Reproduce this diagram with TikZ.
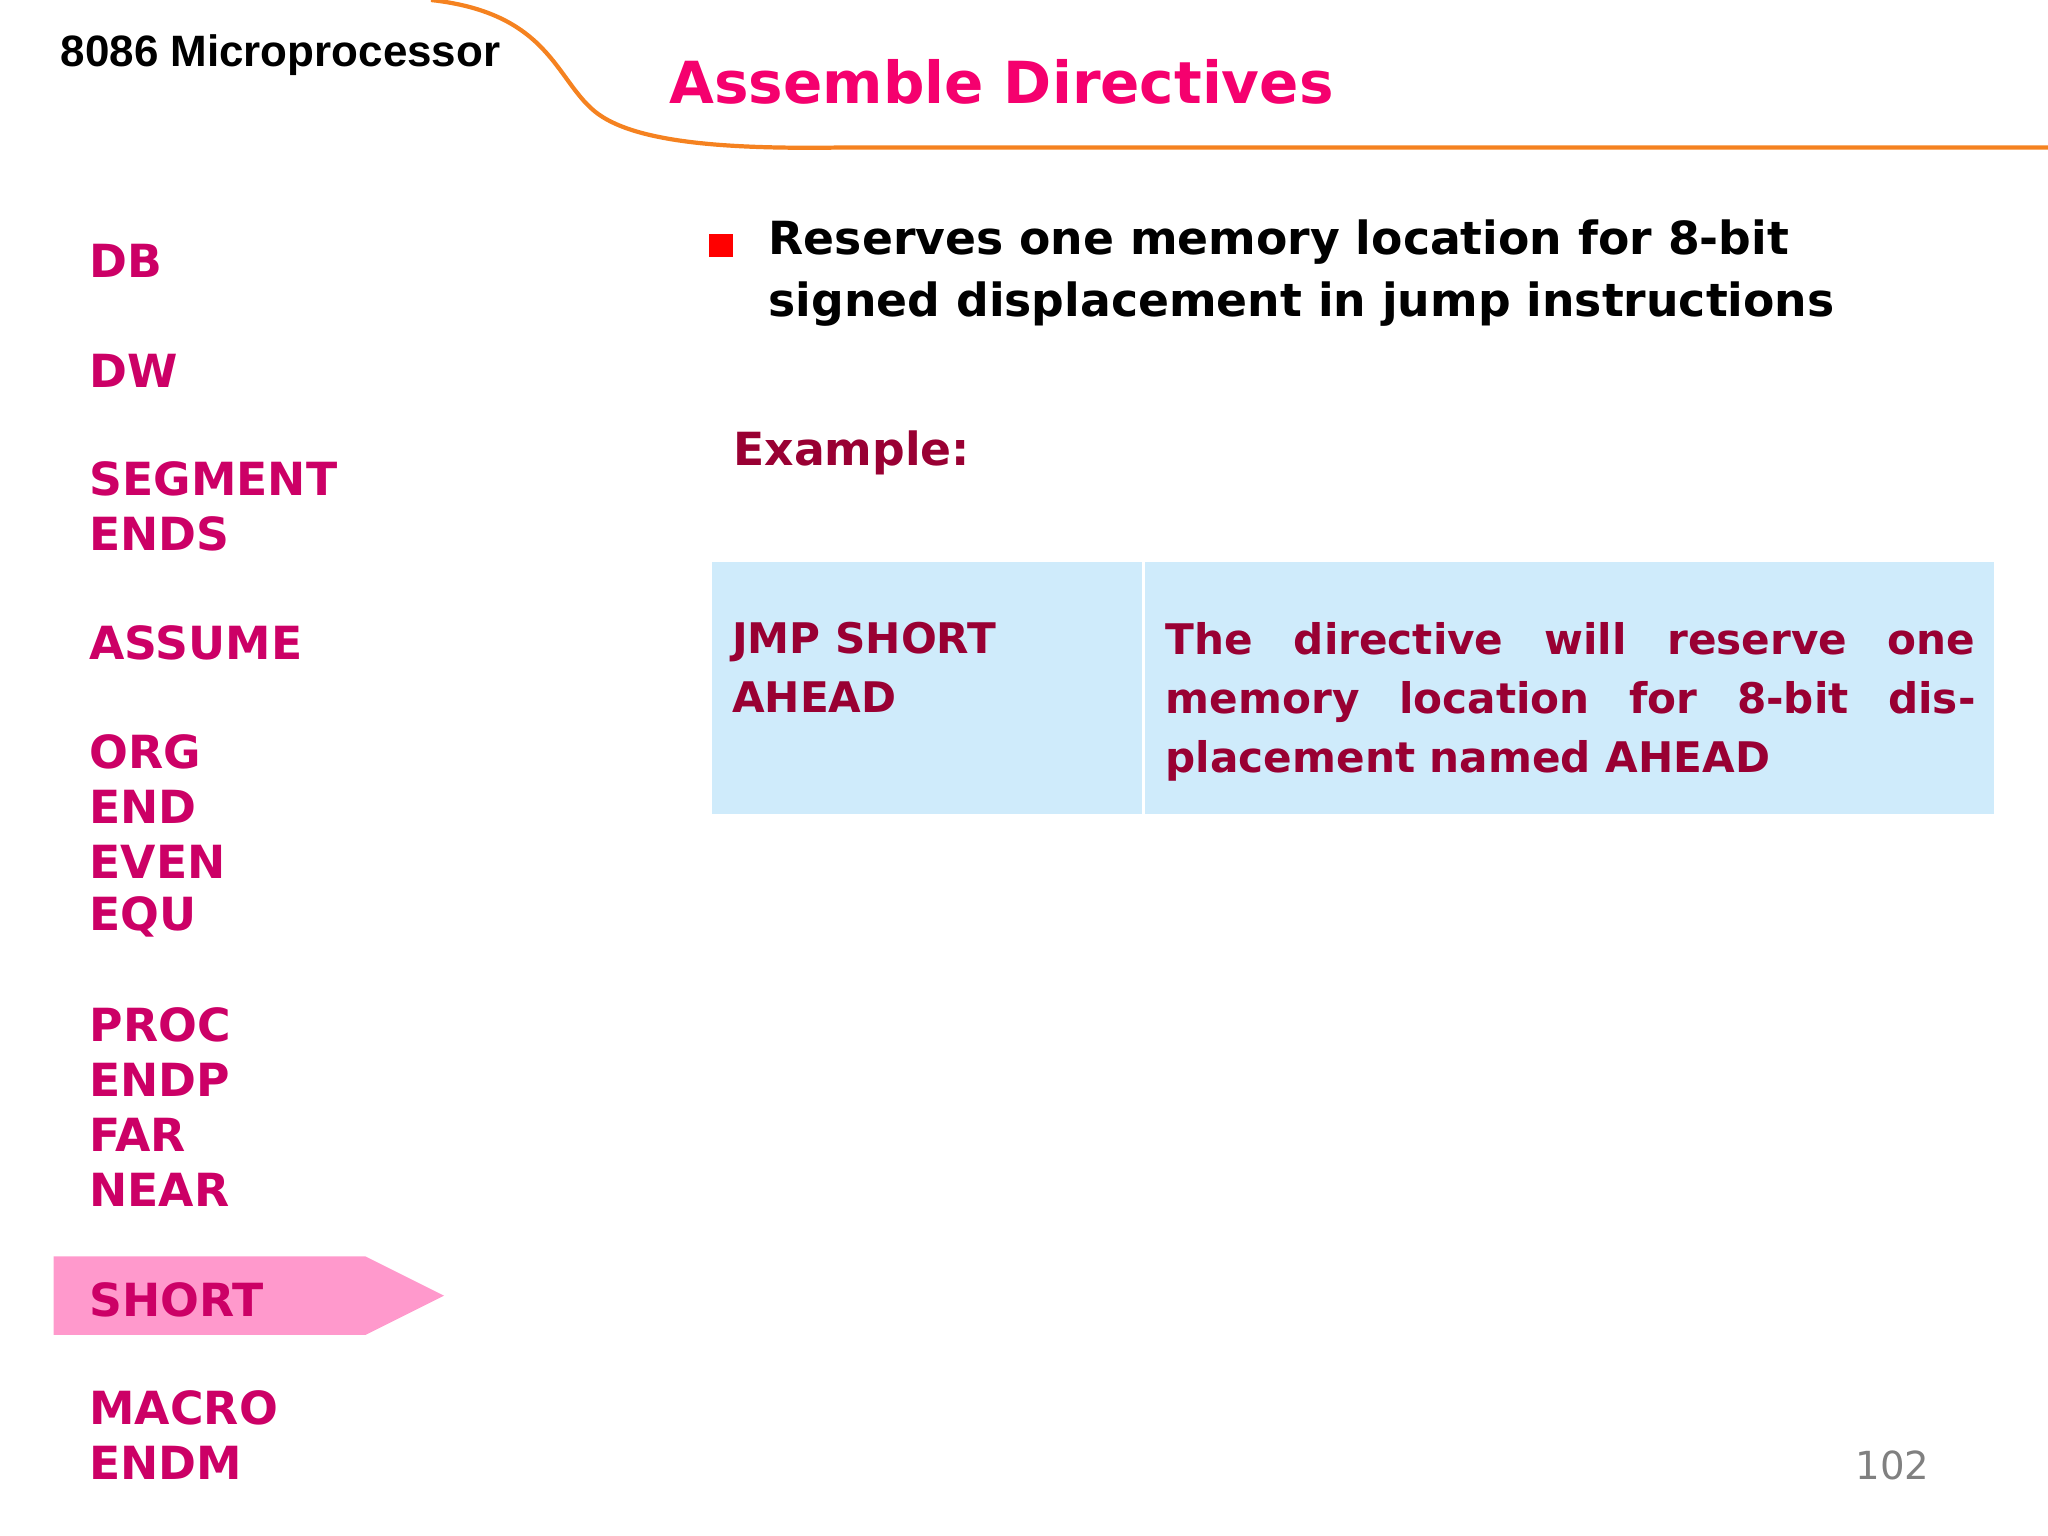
\documentclass[tikz,border=0pt]{standalone}
\usepackage{fontspec}
\setmainfont{DejaVu Sans}
\newfontfamily\arialf{Liberation Sans}
\definecolor{lst}{HTML}{CC0066}
\definecolor{ttl}{HTML}{F5006E}
\definecolor{tbl}{HTML}{990033}
\definecolor{cellc}{HTML}{CFEBFB}
\definecolor{pinkc}{HTML}{FF99CC}
\definecolor{orangec}{HTML}{F58220}
\tikzset{item/.style={anchor=west,inner sep=0pt,font=\bfseries\fontsize{13}{15}\selectfont,text=lst},
cellt/.style={anchor=north west,inner sep=0pt,font=\bfseries\fontsize{12}{16.8}\selectfont,text=tbl}}
\begin{document}
\begin{tikzpicture}[x=0.013061cm,y=-0.013061cm]
\useasboundingbox (0,0) rectangle (1568,1176);
\draw[orangec,line width=1.2pt] (330,0) .. controls (420,10) and (425,60) .. (455,85) .. controls (485,110) and (560,114) .. (640,113) -- (1568,113);
\node[anchor=west,inner sep=0pt,font=\arialf\bfseries\fontsize{12.5}{15}\selectfont] (t1) at (46,42) {8086 Microprocessor};
\node[anchor=west,inner sep=0pt,font=\bfseries\fontsize{16.5}{20}\selectfont,text=ttl] (t2) at (512,63) {Assemble Directives};
\fill[pinkc] (41,962) -- (280,962) -- (340,992) -- (280,1022) -- (41,1022) -- cycle;
\foreach \n/\t/\y in {a/DB/200,b/DW/284,c/SEGMENT/367,d/ENDS/409,e/ASSUME/492,f/ORG/576,g/END/618,h/EVEN/660,i/EQU/702,j/PROC/785,k/ENDP/827,l/FAR/869,m/NEAR/911,n/SHORT/995,o/MACRO/1078,p/ENDM/1120}
  \node[item] (\n) at (68,\y) {\t};
\fill[red] (543,179) rectangle (561,197);
\node[anchor=north west,inner sep=0pt,align=left,font=\bfseries\fontsize{13}{17.6}\selectfont] (bt) at (588,168) {Reserves one memory location for 8-bit\\signed displacement in jump instructions};
\node[anchor=west,inner sep=0pt,font=\bfseries\fontsize{13}{15}\selectfont,text=tbl] (ex) at (561,347) {Example:};
\fill[cellc] (545,430) rectangle (874,623);
\fill[cellc] (877,430) rectangle (1527,623);
\node[cellt,align=left] (c1) at (560,476) {JMP SHORT\\AHEAD};
\node[cellt,text width=620*0.013061cm,align=justify] (c2) at (892,476) {The directive will reserve one memory location for 8-bit displacement named AHEAD};
\node[anchor=center,inner sep=0pt,font=\fontsize{11}{13}\selectfont,text=gray] (pg) at (1449,1122) {102};
\end{tikzpicture}
\end{document}
